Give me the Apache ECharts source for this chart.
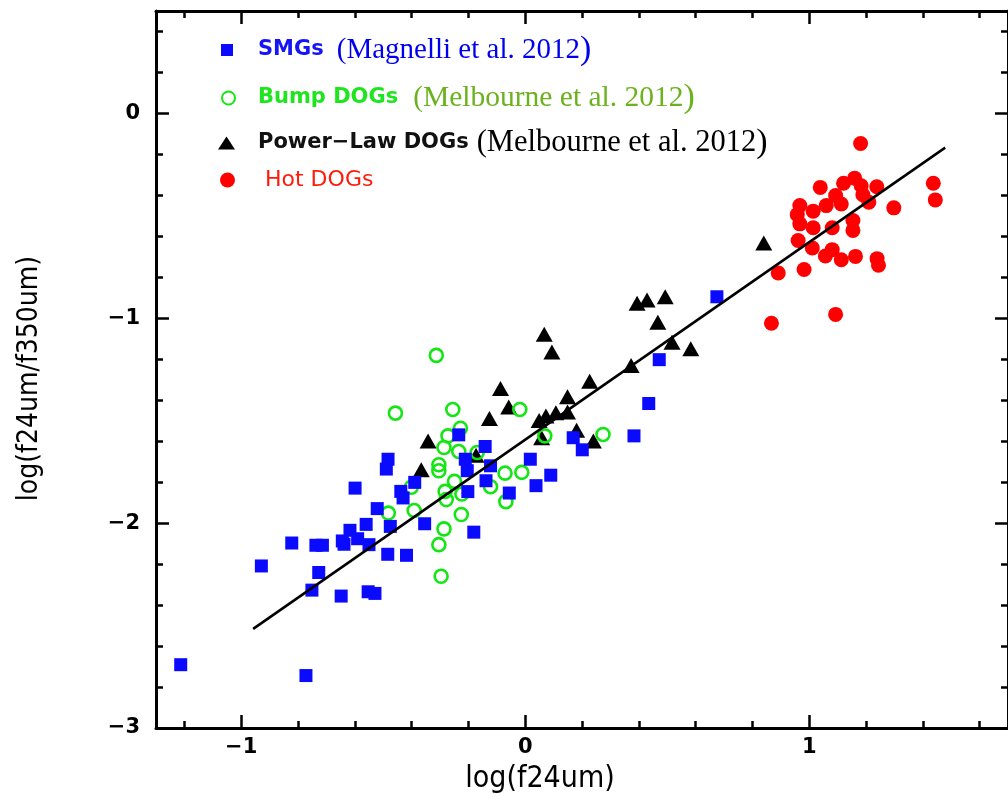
<!DOCTYPE html>
<html>
<head>
<meta charset="utf-8">
<script src="https://cdn.jsdelivr.net/npm/echarts@6/dist/echarts.min.js"></script>
<style>
html,body{margin:0;padding:0;background:#fff;}
#chart{width:1008px;height:799px;}
</style>
</head>
<body>
<div id="chart"></div>
<script>
// ---- Data ----
const smgX = [-0.822,-0.929,-0.737,-0.714,-0.727,-0.751,-0.648,-0.644,-0.638,-0.617,-0.590,-0.560,-0.550,-0.553,-0.529,-0.599,-0.521,-0.484,-0.418,-0.475,-0.483,-0.489,-0.438,-0.430,-0.389,-1.213,-0.772,-0.354,-0.234,-0.141,-0.211,-0.204,-0.122,-0.138,-0.202,-0.056,-0.181,0.018,0.038,0.090,0.675,0.472,0.435,0.383,0.169,0.201];
const smgY = [-2.097,-2.209,-2.108,-2.108,-2.241,-2.327,-2.356,-2.087,-2.103,-2.035,-2.076,-2.006,-2.105,-2.335,-2.343,-1.829,-1.929,-2.152,-2.157,-2.016,-1.688,-1.736,-1.845,-1.877,-1.801,-2.691,-2.744,-2.003,-1.569,-1.626,-1.688,-1.744,-1.720,-1.793,-1.846,-1.853,-2.044,-1.688,-1.817,-1.766,-0.895,-1.202,-1.416,-1.574,-1.583,-1.642];

const bumpX = [-0.313,-0.457,-0.255,-0.019,-0.228,-0.272,-0.286,-0.234,-0.169,-0.304,-0.304,-0.249,-0.282,-0.223,-0.278,-0.122,-0.071,-0.012,-0.068,-0.391,-0.482,-0.225,-0.286,-0.304,-0.296,0.069,0.274,-0.401];
const bumpY = [-1.181,-1.463,-1.445,-1.445,-1.537,-1.574,-1.631,-1.650,-1.655,-1.715,-1.744,-1.796,-1.845,-1.858,-1.885,-1.822,-1.756,-1.752,-1.895,-1.938,-1.951,-1.958,-2.028,-2.105,-2.259,-1.574,-1.567,-1.825];

const plX = [0.840,0.394,0.429,0.493,0.467,0.517,0.583,0.373,0.227,0.149,0.149,0.108,0.073,0.049,0.181,0.240,0.067,0.094,-0.087,-0.058,-0.126,-0.342,-0.366,-0.173,0.058];
const plY = [-0.633,-0.927,-0.911,-0.895,-1.019,-1.117,-1.149,-1.230,-1.307,-1.383,-1.458,-1.461,-1.477,-1.499,-1.547,-1.599,-1.078,-1.165,-1.343,-1.433,-1.489,-1.599,-1.739,-1.668,-1.583];

const hotX = [1.181,1.039,1.121,1.160,1.183,1.238,1.437,1.444,1.298,1.210,1.189,1.093,1.113,1.060,1.014,0.967,0.958,0.967,1.014,1.081,1.154,1.154,0.961,1.011,1.057,1.081,1.113,1.163,1.239,1.244,0.891,0.982,1.093,0.867];
const hotY = [-0.147,-0.361,-0.341,-0.316,-0.353,-0.358,-0.341,-0.422,-0.461,-0.433,-0.397,-0.401,-0.442,-0.450,-0.477,-0.450,-0.494,-0.539,-0.558,-0.558,-0.523,-0.571,-0.620,-0.657,-0.696,-0.665,-0.714,-0.698,-0.709,-0.741,-0.779,-0.762,-0.981,-1.024];

const fitX = [-0.958, 1.479];
const fitY = [-2.516, -0.167];

const xMajor = [-1, 0, 1];
const xMajorLabels = ['\u22121', '0', '1'];
const xMinor = [-1.2,-0.8,-0.6,-0.4,-0.2,0.2,0.4,0.6,0.8,1.2,1.4,1.6];
const yMajor = [0, -1, -2, -3];
const yMajorLabels = ['0', '\u22121', '\u22122', '\u22123'];
const yMinor = [0.4,0.2,-0.2,-0.4,-0.6,-0.8,-1.2,-1.4,-1.6,-1.8,-2.2,-2.4,-2.6,-2.8];

const zip = (xs, ys) => xs.map((x, i) => [x, ys[i]]);

const X_MIN = -1.3, X_MAX = 1.7, Y_MIN = -3, Y_MAX = 0.5;
const AX = '#000';
const tickFont = {color: AX, fontFamily: 'DejaVu Sans', fontWeight: 'bold', fontSize: 21};
const condensed = 'DejaVu Sans Condensed, DejaVu Sans';

function labelFor(vals, labels) {
  return v => {
    const i = vals.findIndex(t => Math.abs(t - v) < 1e-6);
    return i >= 0 ? labels[i] : '';
  };
}

function xAxisDef(position, major, withLabels) {
  return {
    type: 'value', position: position, min: X_MIN, max: X_MAX,
    axisLine: {show: major, onZero: false, lineStyle: {color: AX, width: 3}},
    axisTick: {show: true, inside: true, length: major ? 13 : 7,
      customValues: major ? xMajor : xMinor, lineStyle: {color: AX, width: 2.5}},
    axisLabel: withLabels ? Object.assign({show: true, customValues: xMajor,
      formatter: labelFor(xMajor, xMajorLabels), margin: 9}, tickFont) : {show: false},
    splitLine: {show: false},
    name: withLabels ? 'log(f24um)' : '',
    nameLocation: 'middle', nameGap: 36,
    nameTextStyle: {color: AX, fontFamily: condensed, fontWeight: 'normal', fontSize: 30, padding: [0, 84, 0, 0]}
  };
}
function yAxisDef(position, major, withLabels) {
  return {
    type: 'value', position: position, min: Y_MIN, max: Y_MAX,
    axisLine: {show: major, onZero: false, lineStyle: {color: AX, width: 3}},
    axisTick: {show: true, inside: true, length: major ? 13 : 7,
      customValues: major ? yMajor : yMinor, lineStyle: {color: AX, width: 2.5}},
    axisLabel: withLabels ? Object.assign({show: true, customValues: yMajor,
      formatter: labelFor(yMajor, yMajorLabels), margin: 16}, tickFont) : {show: false},
    splitLine: {show: false},
    name: withLabels ? 'log(f24um/f350um)' : '',
    nameLocation: 'middle', nameGap: 112,
    nameTextStyle: {color: AX, fontFamily: condensed, fontWeight: 'normal', fontSize: 28, padding: [0, 18, 0, 0]}
  };
}

const serif = 'Liberation Serif, Times New Roman, serif';
const sansB = 'DejaVu Sans';

function legendDef(name, icon, left, top, w, h, rich, fmt) {
  return {
    data: [{name: name, icon: icon}],
    left: left, top: top, itemWidth: w, itemHeight: h, padding: 0,
    selectedMode: false, orient: 'vertical',
    formatter: () => fmt,
    textStyle: {rich: rich}
  };
}

const option = {
  animation: false,
  backgroundColor: '#ffffff',
  grid: {left: 156, right: -5, top: 11, bottom: 67, containLabel: false},
  xAxis: [xAxisDef('bottom', true, true), xAxisDef('bottom', false, false),
          xAxisDef('top', true, false), xAxisDef('top', false, false)],
  yAxis: [yAxisDef('left', true, true), yAxisDef('left', false, false),
          yAxisDef('right', true, false), yAxisDef('right', false, false)],
  legend: [
    legendDef('SMGs', 'rect', 221, 33, 12, 12, {
      a: {fontFamily: sansB, fontWeight: 'bold', fontSize: 21, color: '#1515f5', padding: [0,0,0,20], lineHeight: 34},
      b: {fontFamily: serif, fontSize: 29, color: '#0000f0', padding: [0,0,0,13], lineHeight: 34},
      c: {fontFamily: serif, fontSize: 34, color: '#0000f0', lineHeight: 34}
    }, '{a|SMGs}{b|(Magnelli et al. 2012}{c|)}'),
    legendDef('Bump DOGs', 'circle', 221, 81, 13, 13, {
      a: {fontFamily: sansB, fontWeight: 'bold', fontSize: 21, color: '#1ee61e', padding: [0,0,0,18], lineHeight: 34},
      b: {fontFamily: serif, fontSize: 29.5, color: '#6cb21f', padding: [0,0,0,15], lineHeight: 34},
      c: {fontFamily: serif, fontSize: 34, color: '#6cb21f', lineHeight: 34}
    }, '{a|Bump DOGs}{b|(Melbourne et al. 2012}{c|)}'),
    legendDef('Power-Law DOGs', 'triangle', 218, 126, 17, 13, {
      a: {fontFamily: sansB, fontWeight: 'bold', fontSize: 21, color: '#111111', padding: [0,0,0,18], lineHeight: 34},
      b: {fontFamily: serif, fontSize: 30.5, color: '#000000', padding: [0,0,0,8], lineHeight: 34},
      c: {fontFamily: serif, fontSize: 34, color: '#000000', lineHeight: 34}
    }, '{a|Power\u2212Law DOGs}{b|(Melbourne et al. 2012}{c|)}'),
    legendDef('Hot DOGs', 'circle', 220, 169, 15, 15, {
      a: {fontFamily: 'DejaVu Sans', fontSize: 22, color: '#ff1a0a', padding: [0,0,0,25], lineHeight: 34}
    }, '{a|Hot DOGs}')
  ],
  series: [
    {
      name: 'SMGs', type: 'scatter', symbol: 'rect', symbolSize: 13, z: 4,
      itemStyle: {color: '#0a0aff', opacity: 1},
      data: zip(smgX, smgY)
    },
    {
      name: 'Bump DOGs', type: 'scatter', symbol: 'circle', symbolSize: 13, z: 3,
      itemStyle: {color: 'rgba(255,255,255,0)', borderColor: '#14e614', borderWidth: 2.6, opacity: 1},
      data: zip(bumpX, bumpY)
    },
    {
      name: 'Power-Law DOGs', type: 'scatter', symbol: 'triangle', symbolSize: [17, 15], z: 2,
      itemStyle: {color: '#000000', opacity: 1},
      data: zip(plX, plY)
    },
    {
      name: 'Hot DOGs', type: 'scatter', symbol: 'circle', symbolSize: 15, z: 2,
      itemStyle: {color: '#ff0000', opacity: 1},
      data: zip(hotX, hotY)
    },
    {
      name: 'fit', type: 'line', symbol: 'none', z: 5, silent: true,
      lineStyle: {color: '#000', width: 2.5},
      data: zip(fitX, fitY)
    }
  ]
};

const chart = echarts.init(document.getElementById('chart'), null, {renderer: 'canvas'});
chart.setOption(option);
</script>
</body>
</html>
